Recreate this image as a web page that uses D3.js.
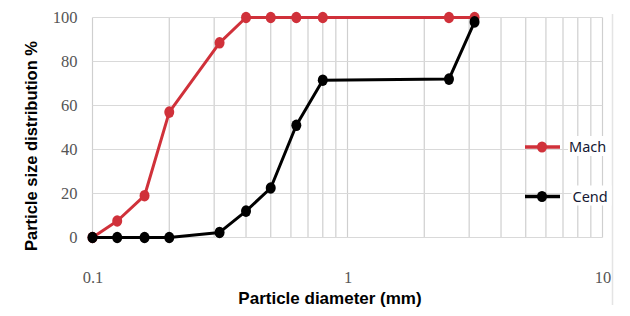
<!DOCTYPE html>
<html>
<head>
<meta charset="utf-8">
<script src="https://cdn.jsdelivr.net/npm/d3@7"></script>
<style>
  body { margin: 0; background: #fff; }
  svg { display: block; }
</style>
</head>
<body>
<svg id="chart"></svg>
<script>
// sieve sizes (mm) and passing percentages
const sizes = [0.1, 0.125, 0.16, 0.2, 0.315, 0.4, 0.5, 0.63, 0.8, 2.5, 3.15];
const mach = [0, 7.5, 19, 57, 88.5, 100, 100, 100, 100, 100, 100];
const cend = [0, 0, 0, 0, 2.3, 12, 22.5, 51, 71.5, 72, 98];
const yTicks = [0, 20, 40, 60, 80, 100];
const xTicks = [0.1, 1, 10];
const seriesNames = ["Mach", "Cend"];
const seriesColors = ["#d0313a", "#000000"];

const W = 630, H = 316;
const margin = {top: 17.5, right: 27.5, bottom: 78.5, left: 92.5};
const width = W - margin.left - margin.right;
const height = H - margin.top - margin.bottom;

const svg = d3.select("#chart").attr("width", W).attr("height", H);
const g = svg.append("g").attr("transform", `translate(${margin.left},${margin.top})`);

const x = d3.scaleLog().domain([0.1, 10]).range([0, width]);
const y = d3.scaleLinear().domain([0, 100]).range([height, 0]);

// grid
const minor = [];
for (let dec = 0.1; dec < 10; dec *= 10) {
  for (let k = 1; k < 10; k++) minor.push(+(dec * k).toFixed(3));
}
minor.push(10);

g.append("g").selectAll("line").data(minor).join("line")
  .attr("x1", d => x(d)).attr("x2", d => x(d))
  .attr("y1", 0).attr("y2", height)
  .attr("stroke", "#cfcfcf").attr("stroke-width", 1.2);

g.append("g").selectAll("line").data(yTicks).join("line")
  .attr("x1", 0).attr("x2", width)
  .attr("y1", d => y(d)).attr("y2", d => y(d))
  .attr("stroke", "#d9d9d9").attr("stroke-width", 1.2);

// axes labels
const yAxis = g.append("g")
  .attr("transform", "translate(-15,0)")
  .call(d3.axisLeft(y).tickValues(yTicks).tickSize(0).tickPadding(0));
yAxis.select(".domain").remove();
yAxis.selectAll("text")
  .attr("font-family", "Liberation Serif, serif")
  .attr("font-size", 16.5).attr("fill", "#555");

const xAxis = g.append("g")
  .attr("transform", `translate(0,${height + 34})`)
  .call(d3.axisBottom(x).tickValues(xTicks).tickFormat(d3.format("~g")).tickSize(0).tickPadding(0));
xAxis.select(".domain").remove();
xAxis.selectAll("text")
  .attr("font-family", "Liberation Serif, serif")
  .attr("font-size", 16.5).attr("fill", "#555");

// lines and markers
const line = d3.line().x(d => x(d[0])).y(d => y(d[1]));
[mach, cend].forEach((vals, i) => {
  const pts = sizes.map((s, j) => [s, vals[j]]);
  g.append("path").datum(pts)
    .attr("d", line).attr("fill", "none")
    .attr("stroke", seriesColors[i]).attr("stroke-width", 3)
    .attr("stroke-linejoin", "round");
  g.append("g").selectAll("ellipse").data(pts).join("ellipse")
    .attr("cx", d => x(d[0])).attr("cy", d => y(d[1]))
    .attr("rx", 5).attr("ry", 5.8)
    .attr("fill", seriesColors[i]);
});

// clip off right of chart area
svg.append("rect").attr("x", 612).attr("y", 0).attr("width", 18).attr("height", H).attr("fill", "#fff");
svg.append("line").attr("x1", 612.5).attr("x2", 612.5).attr("y1", 14).attr("y2", 305)
  .attr("stroke", "#e4e4e4").attr("stroke-width", 1.5);

// legend
const legY = [147, 196.5];
seriesNames.forEach((name, i) => {
  const lg = svg.append("g").attr("transform", `translate(525,${legY[i]})`);
  lg.append("line").attr("x1", 0).attr("x2", 35).attr("y1", 0).attr("y2", 0)
    .attr("stroke", seriesColors[i]).attr("stroke-width", 3.5);
  lg.append("ellipse").attr("cx", 17).attr("cy", 0).attr("rx", 5).attr("ry", 5.5)
    .attr("fill", seriesColors[i]);
  const tx = i === 0 ? 44 : 47.5;
  lg.append("rect").attr("x", tx - 1).attr("y", -11).attr("width", 40).attr("height", 20).attr("fill", "#fff");
  lg.append("text").attr("x", tx).attr("y", 5)
    .attr("font-family", "Noto Sans, sans-serif").attr("font-size", 14.5)
    .attr("fill", "#141833").text(name);
});

// titles
svg.append("text")
  .attr("x", 330).attr("y", 304)
  .attr("text-anchor", "middle")
  .attr("font-family", "Liberation Sans, Arial, sans-serif")
  .attr("font-weight", "bold").attr("font-size", 17)
  .attr("fill", "#000").text("Particle diameter (mm)");

svg.append("text")
  .attr("transform", "translate(37,146) rotate(-90)")
  .attr("text-anchor", "middle")
  .attr("font-family", "Liberation Sans, Arial, sans-serif")
  .attr("font-weight", "bold").attr("font-size", 16.5)
  .attr("fill", "#000").text("Particle size distribution %");
</script>
</body>
</html>
